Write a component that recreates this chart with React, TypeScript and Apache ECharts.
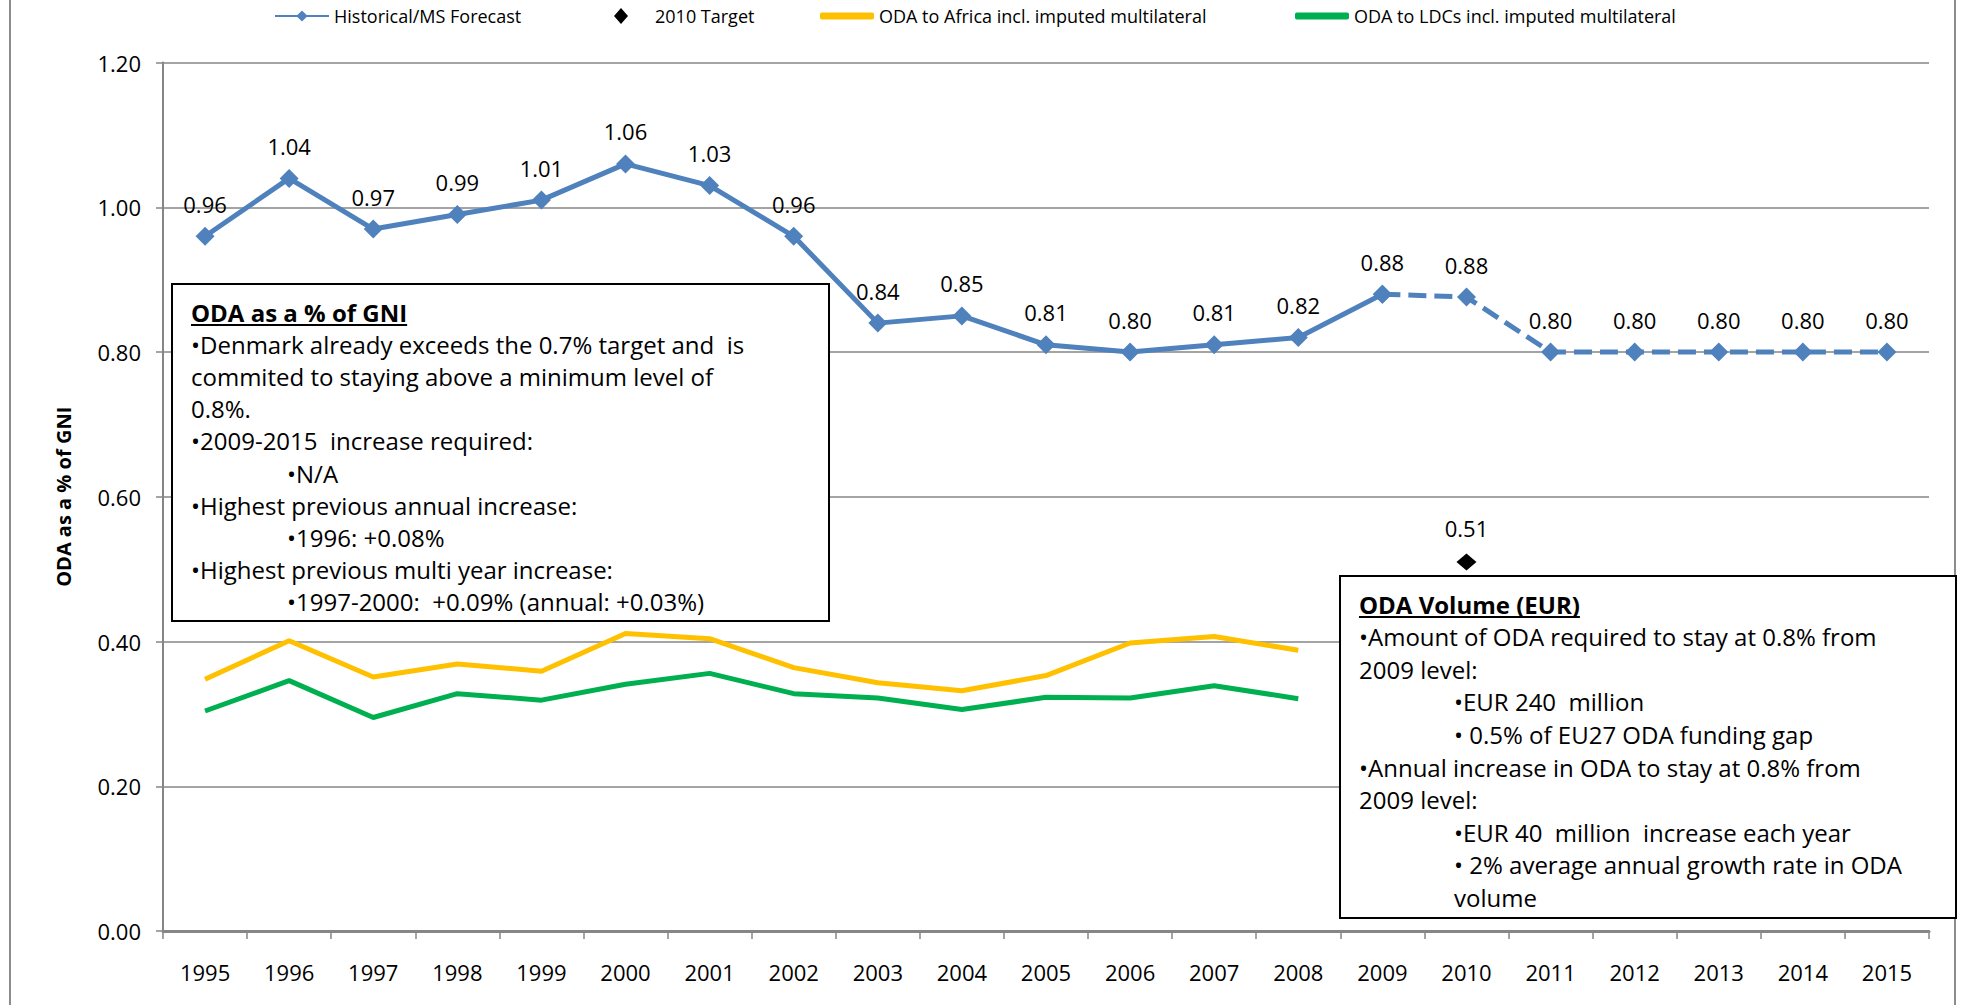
import React, { useEffect, useRef } from "react";
import * as echarts from "echarts";

const years = ["1995","1996","1997","1998","1999","2000","2001","2002","2003","2004","2005","2006","2007","2008","2009","2010","2011","2012","2013","2014","2015"];
// 1995–2009 historical
const historical = [0.96, 1.04, 0.97, 0.99, 1.01, 1.06, 1.03, 0.96, 0.84, 0.85, 0.81, 0.80, 0.81, 0.82, 0.88];
// 2009–2015 forecast
const forecast = [0.88, 0.876, 0.80, 0.80, 0.80, 0.80, 0.80];
const targetYear = "2010";
const targetValue = 0.51;
// 1995–2008
const africa = [0.348, 0.401, 0.351, 0.369, 0.359, 0.411, 0.404, 0.364, 0.343, 0.332, 0.353, 0.398, 0.407, 0.388];
const ldcs = [0.304, 0.346, 0.295, 0.328, 0.319, 0.341, 0.356, 0.328, 0.322, 0.306, 0.323, 0.322, 0.339, 0.321];

const yTicks = { min: 0, max: 1.2, interval: 0.2 };

const box1Title = "ODA as a % of GNI";
const box1Lines: [string, number][] = [
  ["•Denmark already exceeds the 0.7% target and  is", 0],
  ["commited to staying above a minimum level of", 0],
  ["0.8%.", 0],
  ["•2009-2015  increase required:", 0],
  ["•N/A", 1],
  ["•Highest previous annual increase:", 0],
  ["•1996: +0.08%", 1],
  ["•Highest previous multi year increase:", 0],
  ["•1997-2000:  +0.09% (annual: +0.03%)", 1],
];
const box2Title = "ODA Volume (EUR)";
const box2Lines: [string, number][] = [
  ["•Amount of ODA required to stay at 0.8% from", 0],
  ["2009 level:", 0],
  ["•EUR 240  million", 1],
  ["• 0.5% of EU27 ODA funding gap", 1],
  ["•Annual increase in ODA to stay at 0.8% from", 0],
  ["2009 level:", 0],
  ["•EUR 40  million  increase each year", 1],
  ["• 2% average annual growth rate in ODA", 1],
  ["volume", 1],
];

const BLUE = "#4F81BD";
const FONT = '"Open Sans", "DejaVu Sans", sans-serif';

function measure(text: string, font: string): number {
  try {
    const c = document.createElement("canvas").getContext("2d");
    if (!c) return text.length * 12;
    c.font = font;
    return c.measureText(text).width;
  } catch (e) {
    return text.length * 12;
  }
}

function textBox(x: number, y: number, w: number, h: number, title: string, lines: [string, number][], indent: number, firstY: number, step: number) {
  const children: any[] = [];
  children.push({
    type: "rect",
    shape: { x, y, width: w, height: h },
    style: { fill: "#fff", stroke: "#000", lineWidth: 2 },
    z: 100,
  });
  const tx = x + 19;
  const titleW = measure(title, 'bold 24px "Open Sans"');
  children.push({
    type: "text",
    x: tx,
    y: firstY,
    style: { text: title, fill: "#000", fontFamily: FONT, fontSize: 24, fontWeight: "bold", align: "left", verticalAlign: "middle", textAlign: "left", textVerticalAlign: "middle" },
    z: 101,
  });
  children.push({
    type: "line",
    shape: { x1: tx, y1: firstY + 13, x2: tx + titleW, y2: firstY + 13 },
    style: { stroke: "#000", lineWidth: 2 },
    z: 101,
  });
  lines.forEach(([t, lvl], i) => {
    children.push({
      type: "text",
      x: tx + lvl * indent,
      y: firstY + step * (i + 1),
      style: { text: t, fill: "#000", fontFamily: FONT, fontSize: 24, align: "left", verticalAlign: "middle", textAlign: "left", textVerticalAlign: "middle" },
      z: 101,
    });
  });
  return children;
}

export default function App() {
  const ref = useRef<HTMLDivElement>(null);
  useEffect(() => {
    if (!ref.current) return;
    const chart = echarts.init(ref.current, undefined, { renderer: "svg" });
    const histData = years.map((_, i) => (i < historical.length ? historical[i] : null));
    const fcStart = historical.length - 1;
    const fcData = years.map((_, i) => {
      if (i < fcStart || i >= fcStart + forecast.length) return null;
      const v = forecast[i - fcStart];
      return i === fcStart ? { value: v, label: { show: false } } : v;
    });
    const tIdx = years.indexOf(targetYear);
    const targetData = years.map((_, i) => (i === tIdx ? targetValue : null));
    const afData = years.map((_, i) => (i < africa.length ? africa[i] : null));
    const ldData = years.map((_, i) => (i < ldcs.length ? ldcs[i] : null));

    const labelStyle = {
      show: true,
      position: "top",
      distance: 12,
      color: "#000",
      fontFamily: FONT,
      fontSize: 22,
      formatter: (p: any) => (typeof p.value === "number" ? p.value.toFixed(2) : ""),
    };

    const legendBase = {
      top: 2,
      itemWidth: 54,
      itemHeight: 14,
      textStyle: { fontFamily: FONT, fontSize: 18, color: "#000" },
      selectedMode: false,
    };

    chart.setOption({
      animation: false,
      backgroundColor: "#fff",
      legend: [
        { ...legendBase, left: 269, data: ["Historical/MS Forecast"] },
        {
          ...legendBase,
          left: 609,
          itemWidth: 14,
          itemHeight: 16,
          data: [{ name: "2010 Target", icon: "diamond" }],
          textStyle: { ...legendBase.textStyle, padding: [0, 0, 0, 22] },
        },
        {
          ...legendBase,
          left: 815,
          itemHeight: 7,
          data: [{ name: "ODA to Africa incl. imputed multilateral", icon: "roundRect" }],
        },
        {
          ...legendBase,
          left: 1290,
          itemHeight: 7,
          data: [{ name: "ODA to LDCs incl. imputed multilateral", icon: "roundRect" }],
        },
      ],
      grid: { left: 163, right: 35, top: 62.6, bottom: 74, containLabel: false },
      xAxis: {
        type: "category",
        data: years,
        boundaryGap: true,
        axisLine: { show: true, lineStyle: { color: "#868686", width: 3 } },
        axisTick: { show: true, length: 8, inside: false, lineStyle: { color: "#868686", width: 1.5 } },
        axisLabel: { margin: 30, color: "#000", fontFamily: FONT, fontSize: 22 },
        splitLine: { show: false },
      },
      yAxis: {
        type: "value",
        min: yTicks.min,
        max: yTicks.max,
        interval: yTicks.interval,
        name: "ODA as a % of GNI",
        nameLocation: "middle",
        nameGap: 90,
        nameTextStyle: { fontFamily: FONT, fontSize: 20, fontWeight: "bold", color: "#000" },
        axisLine: { show: true, lineStyle: { color: "#868686", width: 2 } },
        axisTick: { show: true, length: 7, inside: false, lineStyle: { color: "#868686", width: 1.5 } },
        axisLabel: { margin: 22, color: "#000", fontFamily: FONT, fontSize: 22, formatter: (v: number) => v.toFixed(2) },
        splitLine: { show: true, lineStyle: { color: "#868686", width: 1.5 } },
      },
      series: [
        {
          name: "Historical/MS Forecast",
          type: "line",
          data: histData,
          symbol: "diamond",
          symbolSize: 19,
          lineStyle: { color: BLUE, width: 5 },
          itemStyle: { color: BLUE },
          label: labelStyle,
          z: 5,
        },
        {
          name: "Historical/MS Forecast",
          type: "line",
          data: fcData,
          symbol: "diamond",
          symbolSize: 19,
          lineStyle: { color: BLUE, width: 5, type: [18, 8] },
          itemStyle: { color: BLUE },
          label: labelStyle,
          z: 5,
        },
        {
          name: "2010 Target",
          type: "scatter",
          data: targetData,
          symbol: "diamond",
          symbolSize: [20, 17],
          itemStyle: { color: "#000", opacity: 1 },
          label: { ...labelStyle, distance: 14 },
          z: 6,
        },
        {
          name: "ODA to Africa incl. imputed multilateral",
          type: "line",
          data: afData,
          symbol: "none",
          lineStyle: { color: "#FFC000", width: 5 },
          itemStyle: { color: "#FFC000" },
          z: 4,
        },
        {
          name: "ODA to LDCs incl. imputed multilateral",
          type: "line",
          data: ldData,
          symbol: "none",
          lineStyle: { color: "#00B050", width: 5 },
          itemStyle: { color: "#00B050" },
          z: 4,
        },
      ],
      graphic: [
        { type: "line", shape: { x1: 10, y1: 0, x2: 10, y2: 1005 }, style: { stroke: "#8c8c8c", lineWidth: 2 }, z: 1 },
        { type: "line", shape: { x1: 1955, y1: 0, x2: 1955, y2: 1005 }, style: { stroke: "#8c8c8c", lineWidth: 2 }, z: 1 },
        {
          type: "group",
          children: textBox(172, 284, 657, 337, box1Title, box1Lines, 96, 312, 32.2),
        },
        {
          type: "group",
          children: textBox(1340, 576, 616, 342, box2Title, box2Lines, 95, 604, 32.6),
        },
      ],
    });
    return () => chart.dispose();
  }, []);
  return (
    <div
      ref={ref}
      style={{ position: "absolute", left: 0, top: 0, width: 1964, height: 1005, background: "#fff" }}
    />
  );
}
